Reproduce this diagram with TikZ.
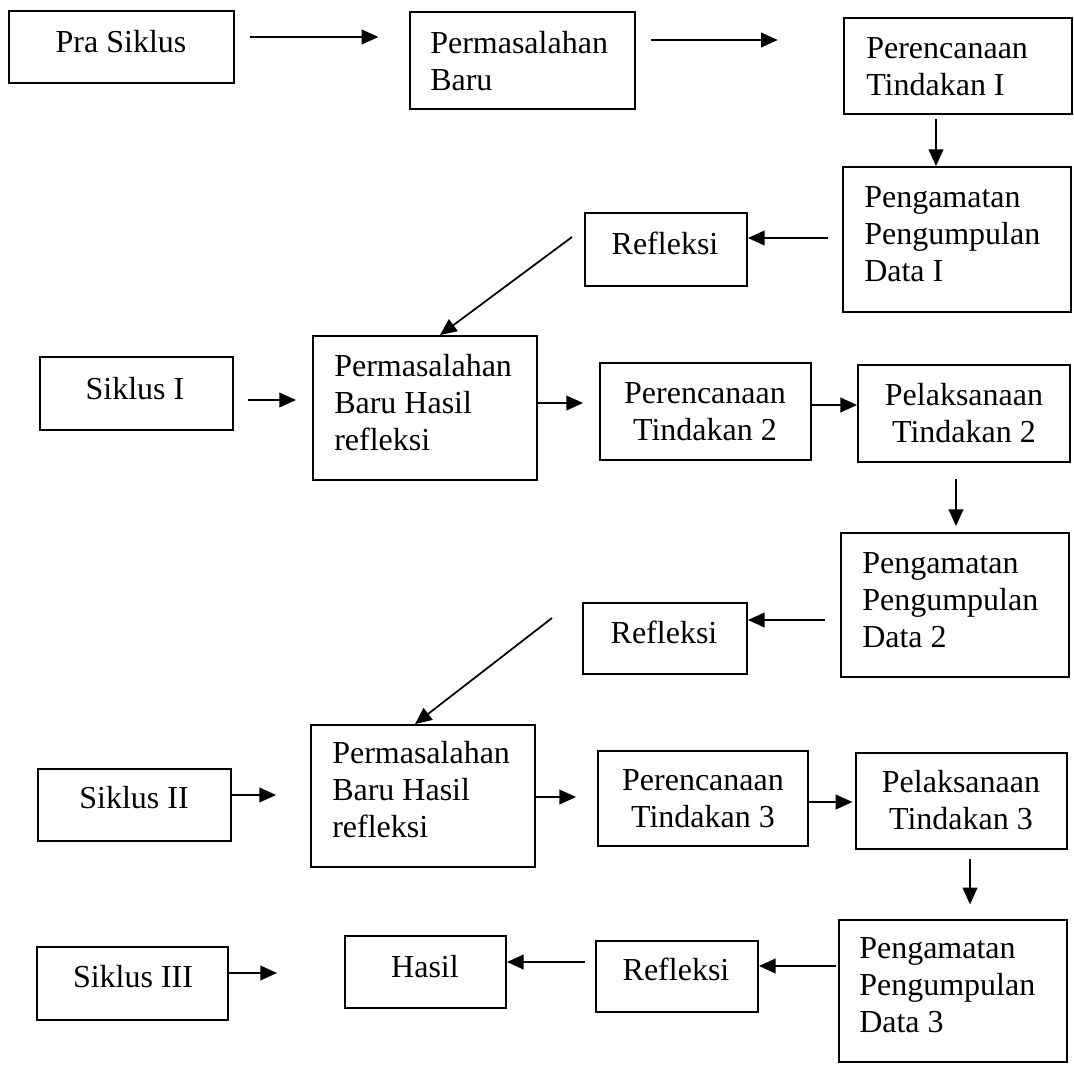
\documentclass[tikz,border=0pt]{standalone}
\usepackage{fontspec}
\setmainfont{Liberation Serif}
\usetikzlibrary{arrows.meta,fit}
\begin{document}
\begin{tikzpicture}[x=0.75pt,y=-0.75pt,
  box/.style={draw, line width=1.4pt, inner sep=0pt},
  txt/.style={inner sep=0pt, font=\fontsize{24}{28.1}\selectfont},
  arr/.style={-{Triangle[length=12.5pt,width=11pt]}, line width=1.3pt}]
\useasboundingbox (0,0) rectangle (1074,1064);

% boxes
\node[box, fit={(9,11)(234,83)}] (pra) {};
\node[box, fit={(410,12)(635,109)}] (pb) {};
\node[box, fit={(844,18)(1072,114)}] (pt1) {};
\node[box, fit={(843,167)(1071,312)}] (pg1) {};
\node[box, fit={(585,213)(747,286)}] (rf1) {};
\node[box, fit={(40,357)(233,430)}] (s1) {};
\node[box, fit={(313,336)(537,480)}] (ph1) {};
\node[box, fit={(600,363)(811,460)}] (pt2) {};
\node[box, fit={(858,365)(1070,462)}] (pl2) {};
\node[box, fit={(841,533)(1069,677)}] (pg2) {};
\node[box, fit={(583,603)(747,674)}] (rf2) {};
\node[box, fit={(38,769)(231,841)}] (s2) {};
\node[box, fit={(311,725)(535,867)}] (ph2) {};
\node[box, fit={(598,751)(808,846)}] (pt3) {};
\node[box, fit={(856,753)(1067,849)}] (pl3) {};
\node[box, fit={(839,920)(1067,1062)}] (pg3) {};
\node[box, fit={(596,941)(758,1012)}] (rf3) {};
\node[box, fit={(345,936)(506,1008)}] (hs) {};
\node[box, fit={(37,947)(228,1020)}] (s3) {};

% texts
\node[txt, anchor=base] (pra-t) at (121,52) {Pra Siklus};
\node[txt, anchor=base west] (pb-t) at (430,53) {\begin{tabular}[t]{@{}l@{}}Permasalahan\\Baru\end{tabular}};
\node[txt, anchor=base west] (pt1-t) at (866,58) {\begin{tabular}[t]{@{}l@{}}Perencanaan\\Tindakan I\end{tabular}};
\node[txt, anchor=base west] (pg1-t) at (864,207) {\begin{tabular}[t]{@{}l@{}}Pengamatan\\Pengumpulan\\Data I\end{tabular}};
\node[txt, anchor=base] (rf1-t) at (665,254) {Refleksi};
\node[txt, anchor=base] (s1-t) at (135,399) {Siklus I};
\node[txt, anchor=base west] (ph1-t) at (334,376) {\begin{tabular}[t]{@{}l@{}}Permasalahan\\Baru Hasil\\refleksi\end{tabular}};
\node[txt, anchor=base] (pt2-t) at (705,403) {\begin{tabular}[t]{@{}c@{}}Perencanaan\\Tindakan 2\end{tabular}};
\node[txt, anchor=base] (pl2-t) at (964,405) {\begin{tabular}[t]{@{}c@{}}Pelaksanaan\\Tindakan 2\end{tabular}};
\node[txt, anchor=base west] (pg2-t) at (862,573) {\begin{tabular}[t]{@{}l@{}}Pengamatan\\Pengumpulan\\Data 2\end{tabular}};
\node[txt, anchor=base] (rf2-t) at (664,643) {Refleksi};
\node[txt, anchor=base west] (ph2-t) at (332,763) {\begin{tabular}[t]{@{}l@{}}Permasalahan\\Baru Hasil\\refleksi\end{tabular}};
\node[txt, anchor=base] (s2-t) at (134,808) {Siklus II};
\node[txt, anchor=base] (pt3-t) at (703,790) {\begin{tabular}[t]{@{}c@{}}Perencanaan\\Tindakan 3\end{tabular}};
\node[txt, anchor=base] (pl3-t) at (961,792) {\begin{tabular}[t]{@{}c@{}}Pelaksanaan\\Tindakan 3\end{tabular}};
\node[txt, anchor=base west] (pg3-t) at (859,958) {\begin{tabular}[t]{@{}l@{}}Pengamatan\\Pengumpulan\\Data 3\end{tabular}};
\node[txt, anchor=base] (rf3-t) at (676,980) {Refleksi};
\node[txt, anchor=base] (hs-t) at (425,977) {Hasil};
\node[txt, anchor=base] (s3-t) at (133,987) {Siklus III};

% helper coordinates
\coordinate (h1) at (0,37);
\coordinate (h2) at (0,40);
\coordinate (v1) at (936,0);
\coordinate (h3) at (0,238);
\coordinate (d1s) at (572,237);
\coordinate (d1x) at (440,0);
\coordinate (h4) at (0,400);
\coordinate (h5) at (0,403);
\coordinate (h6) at (0,405);
\coordinate (v2) at (956,0);
\coordinate (h7) at (0,620);
\coordinate (d2s) at (552,618);
\coordinate (d2x) at (415,0);
\coordinate (h8) at (0,795);
\coordinate (h9) at (0,797);
\coordinate (h10) at (0,802);
\coordinate (v3) at (970,0);
\coordinate (h11) at (0,966);
\coordinate (h12) at (0,962);
\coordinate (s3e) at (277,973);

% connectors
\draw[arr, shorten <=11pt, shorten >=23pt] (pra.east |- h1) -- (pb.west |- h1);
\draw[arr, shorten <=11pt, shorten >=49pt] (pb.east |- h2) -- (pt1.west |- h2);
\draw[arr, shorten <=3pt] (pt1.south -| v1) -- (pg1.north -| v1);
\draw[arr, shorten <=10.5pt] (pg1.west |- h3) -- (rf1.east |- h3);
\draw[arr] (d1s) -- (ph1.north -| d1x);
\draw[arr, shorten <=10.5pt, shorten >=12pt] (s1.east |- h4) -- (ph1.west |- h4);
\draw[arr, shorten >=12pt] (ph1.east |- h5) -- (pt2.west |- h5);
\draw[arr] (pt2.east |- h6) -- (pl2.west |- h6);
\draw[arr, shorten <=12pt, shorten >=4.5pt] (pl2.south -| v2) -- (pg2.north -| v2);
\draw[arr, shorten <=11pt] (pg2.west |- h7) -- (rf2.east |- h7);
\draw[arr] (d2s) -- (ph2.north -| d2x);
\draw[arr, shorten >=25.5pt] (s2.east |- h8) -- (ph2.west |- h8);
\draw[arr, shorten >=15.75pt] (ph2.east |- h9) -- (pt3.west |- h9);
\draw[arr, shorten >=2pt] (pt3.east |- h10) -- (pl3.west |- h10);
\draw[arr, shorten <=7pt, shorten >=11pt] (pl3.south -| v3) -- (pg3.north -| v3);
\draw[arr, shorten <=1.5pt] (pg3.west |- h11) -- (rf3.east |- h11);
\draw[arr, shorten <=7.5pt] (rf3.west |- h12) -- (hs.east |- h12);
\draw[arr] (s3.east |- s3e) -- (s3e);
\end{tikzpicture}
\end{document}
